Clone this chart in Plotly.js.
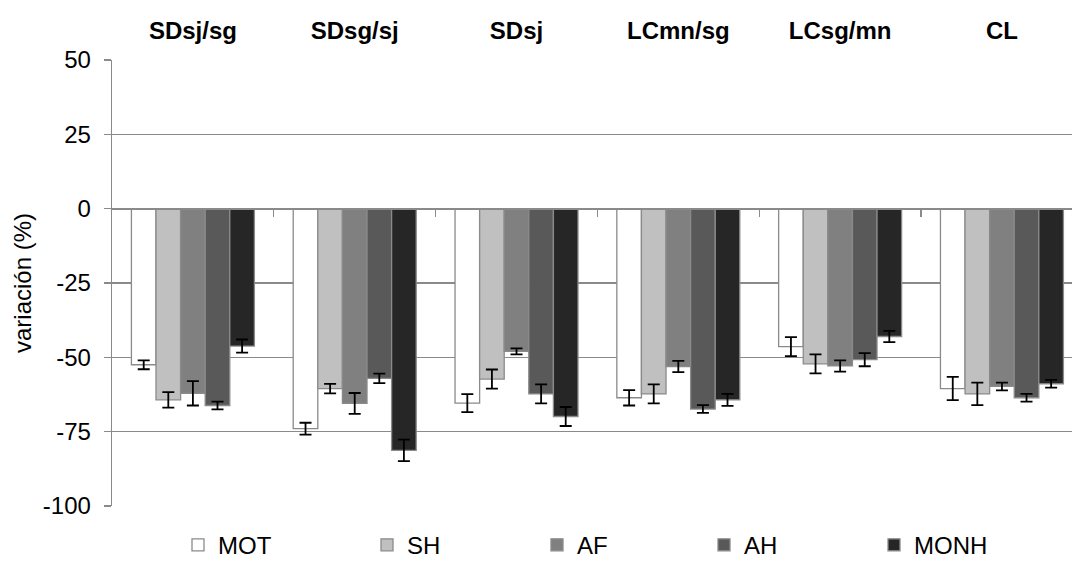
<!DOCTYPE html>
<html>
<head>
<meta charset="utf-8">
<script src="https://cdn.plot.ly/plotly-3.0.1.min.js"></script>
<style>html,body{margin:0;padding:0;background:#fff;}#chart{width:1072px;height:562px;}</style>
</head>
<body>
<div id="chart"></div>
<script>
const categories = ["SDsj/sg", "SDsg/sj", "SDsj", "LCmn/sg", "LCsg/mn", "CL"];
const seriesNames = ["MOT", "SH", "AF", "AH", "MONH"];
const MOT  = [-52.5, -74.0, -65.4, -63.6, -46.4, -60.5];
const SH   = [-64.3, -60.5, -57.3, -62.3, -52.2, -62.3];
const AF   = [-62.1, -65.5, -48.0, -53.1, -52.9, -59.8];
const AH   = [-66.2, -57.1, -62.3, -67.4, -50.8, -63.6];
const MONH = [-46.2, -81.3, -69.9, -64.3, -43.0, -58.9];
const MOT_err  = [1.5, 2.0, 3.0, 2.6, 3.2, 3.9];
const SH_err   = [2.6, 1.6, 3.2, 3.2, 3.2, 3.8];
const AF_err   = [4.1, 3.5, 1.0, 1.9, 1.9, 1.3];
const AH_err   = [1.3, 1.6, 3.2, 1.3, 2.2, 1.3];
const MONH_err = [2.2, 3.6, 3.2, 2.0, 1.9, 1.3];
const yTicks = [-100, -75, -50, -25, 0, 25, 50];
const yTickText = ["-100", "-75", "-50", "-25", "0", "25", "50"];

const values = [MOT, SH, AF, AH, MONH];
const errs = [MOT_err, SH_err, AF_err, AH_err, MONH_err];
const colors = ["#ffffff", "#c0c0c0", "#808080", "#595959", "#262626"];
const FONT = "Liberation Sans, Arial, sans-serif";
const catIdx = categories.map((c, i) => i);
const boundaries = categories.slice(1).map((c, i) => i + 0.5);

const W = 1072, L = 112, R = 0;
const plotW = W - L - R;
// legend text start positions (px)
const legendTextPx = [216, 405, 575, 742, 912];
const legendIds = ["legend", "legend2", "legend3", "legend4", "legend5"];

const traces = values.map((v, k) => ({
  type: "bar",
  name: seriesNames[k],
  legend: legendIds[k],
  x: catIdx,
  y: v,
  marker: {color: colors[k], line: {color: "#8a8a8a", width: 1.3}},
  error_y: {type: "data", array: errs[k], visible: true, color: "#000000", thickness: 1.8, width: 6},
  hoverinfo: "none"
}));
traces.push({type: "scatter", x: [], y: [], xaxis: "x2", yaxis: "y", showlegend: false, hoverinfo: "none"});

const xr = [-0.5, 5.433];
const layout = {
  width: W, height: 562,
  margin: {l: L, r: R, t: 60, b: 56, autoexpand: false},
  paper_bgcolor: "#ffffff", plot_bgcolor: "#ffffff",
  font: {family: FONT, color: "#000000", size: 24},
  barmode: "group", bargap: 0.24, bargroupgap: 0,
  showlegend: true,
  xaxis: {
    side: "top", range: xr, tickmode: "array", tickvals: catIdx, ticktext: categories,
    tickfont: {family: FONT, size: 24, color: "#000", weight: "bold"},
    ticks: "", showgrid: false, showline: false, zeroline: false, ticklabelstandoff: 15
  },
  xaxis2: {
    overlaying: "x", anchor: "free", position: 100/150, range: xr,
    tickmode: "array", tickvals: boundaries, showticklabels: false,
    ticks: "outside", ticklen: 7, tickwidth: 1.3, tickcolor: "#8a8a8a",
    showline: true, linecolor: "#8a8a8a", linewidth: 1.3, showgrid: false, zeroline: false
  },
  yaxis: {
    range: [-100, 50], tickmode: "array", tickvals: yTicks, ticktext: yTickText,
    tickfont: {family: FONT, size: 24, color: "#000"},
    showgrid: true, gridcolor: "#8a8a8a", gridwidth: 1.3, zeroline: false,
    showline: true, linecolor: "#8a8a8a", linewidth: 1.3,
    ticks: "outside", ticklen: 7, tickwidth: 1.3, tickcolor: "#8a8a8a",
    ticklabelstandoff: 8,
    title: {text: "variación (%)", font: {family: FONT, size: 24, color: "#000"}, standoff: 4},
    automargin: false
  }
};
legendIds.forEach((id, k) => {
  layout[id] = {
    orientation: "h", x: (legendTextPx[k] - 38 - L) / plotW, xanchor: "left",
    y: -0.088, yanchor: "middle", font: {family: FONT, size: 24, color: "#000"},
    itemwidth: 30, bgcolor: "rgba(0,0,0,0)", borderwidth: 0
  };
});

Plotly.newPlot("chart", traces, layout, {staticPlot: true, displayModeBar: false});
</script>
</body>
</html>
